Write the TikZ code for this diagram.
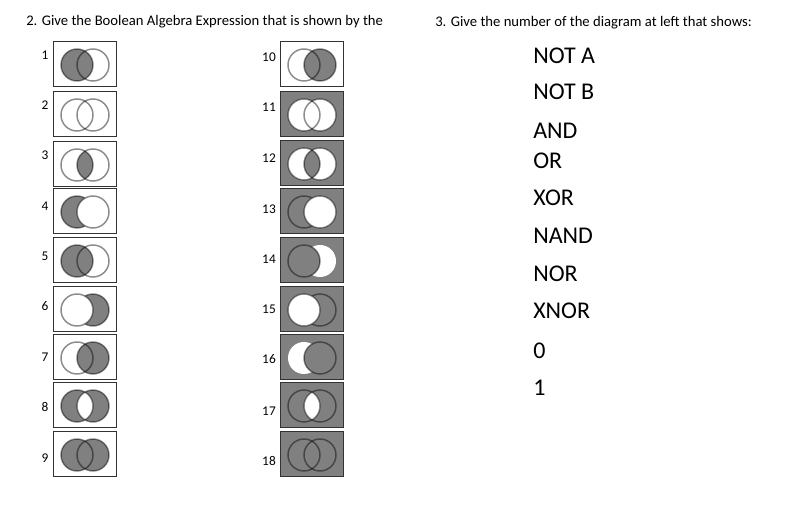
\documentclass[tikz,border=0pt]{standalone}
\usepackage{fontspec}
\setmainfont{Carlito}
\definecolor{shd}{HTML}{808080}
\definecolor{bord}{HTML}{333333}
\tikzset{
 vbox/.style={draw=bord, line width=1.1pt, minimum width=47pt, minimum height=33.5pt, inner sep=0pt, outer sep=0pt},
 circ/.style={draw=black, draw opacity=0.45, line width=1.1pt},
 num/.style={font=\fontsize{10pt}{12pt}\selectfont, anchor=base, inner sep=0pt},
 lbl/.style={font=\fontsize{18pt}{21pt}\selectfont, anchor=base west, inner sep=0pt},
 head/.style={font=\fontsize{11pt}{13pt}\selectfont, anchor=base west, inner sep=0pt},
}
\newcommand\CA{(-8,1) circle (12pt)}
\newcommand\CB{(8,1) circle (12pt)}
\newcommand\outl{\draw[circ] \CA; \draw[circ] \CB;}
\newcommand\vennbox[5]{%
 \node[vbox, fill=#4] (#1) at (#2,#3) {};
 \begin{scope}[shift={(#1.center)}] #5 \end{scope}%
}
\begin{document}
\begin{tikzpicture}[x=0.75pt,y=-0.75pt]
\useasboundingbox (0,0) rectangle (803,509);
\fill[white] (0,0) rectangle (803,509);
% headers
\node[head] (h2) at (26,25.7) {2. Give the Boolean Algebra Expression that is shown by the};
\node[head] (h3) at (435,26.5) {3. Give the number of the diagram at left that shows:};
% left column
\vennbox{b1}{85}{64}{white}{\fill[shd] \CA; \outl}
\vennbox{b2}{85}{114}{white}{\outl}
\vennbox{b3}{85}{164}{white}{\begin{scope}\clip \CA; \fill[shd] \CB;\end{scope} \outl}
\vennbox{b4}{85}{211}{white}{\fill[shd] \CA; \draw[circ] \CA; \fill[white] \CB; \draw[circ] \CB;}
\vennbox{b5}{85}{260}{white}{\fill[shd] \CA; \outl}
\vennbox{b6}{85}{309}{white}{\fill[shd] \CB; \draw[circ] \CB; \fill[white] \CA; \draw[circ] \CA;}
\vennbox{b7}{85}{357}{white}{\fill[shd] \CB; \outl}
\vennbox{b8}{85}{405}{white}{\fill[shd] \CA; \fill[shd] \CB; \begin{scope}\clip \CA; \fill[white] \CB;\end{scope} \outl}
\vennbox{b9}{85}{454}{white}{\fill[shd] \CA; \fill[shd] \CB; \outl}
% right column
\vennbox{b10}{312}{64}{white}{\fill[shd] \CB; \outl}
\vennbox{b11}{312}{114}{shd}{\fill[white] \CA; \fill[white] \CB; \outl}
\vennbox{b12}{312}{163}{shd}{\fill[white] \CA; \fill[white] \CB; \begin{scope}\clip \CA; \fill[shd] \CB;\end{scope} \outl}
\vennbox{b13}{312}{211}{shd}{\draw[circ] \CA; \fill[white] \CB; \draw[circ] \CB;}
\vennbox{b14}{312}{260}{shd}{\fill[white] \CB; \fill[shd] \CA; \draw[circ] \CA;}
\vennbox{b15}{312}{309}{shd}{\draw[circ] \CB; \fill[white] \CA; \draw[circ] \CA;}
\vennbox{b16}{312}{357}{shd}{\fill[white] \CA; \fill[shd] \CB; \draw[circ] \CB;}
\vennbox{b17}{312}{405}{shd}{\begin{scope}\clip \CA; \fill[white] \CB;\end{scope} \outl}
\vennbox{b18}{312}{454}{shd}{\outl}
% numbers
\node[num] (n1) at (45,60) {1};
\node[num] (n2) at (45,110) {2};
\node[num] (n3) at (45,160) {3};
\node[num] (n4) at (45,210.3) {4};
\node[num] (n5) at (45,261) {5};
\node[num] (n6) at (45,311) {6};
\node[num] (n7) at (45,361.6) {7};
\node[num] (n8) at (45,411.6) {8};
\node[num] (n9) at (45,462.6) {9};
\node[num] (n10) at (269,62) {10};
\node[num] (n11) at (269,112) {11};
\node[num] (n12) at (269,162.3) {12};
\node[num] (n13) at (269,213.3) {13};
\node[num] (n14) at (269,263.3) {14};
\node[num] (n15) at (269,313.6) {15};
\node[num] (n16) at (269,363.6) {16};
\node[num] (n17) at (269,415.3) {17};
\node[num] (n18) at (269,465.3) {18};
% labels
\node[lbl] (l1) at (533,63.3) {NOT A};
\node[lbl] (l2) at (533,100) {NOT B};
\node[lbl] (l3) at (533,138.3) {AND};
\node[lbl] (l4) at (533,169) {OR};
\node[lbl] (l5) at (533,205.7) {XOR};
\node[lbl] (l6) at (533,243.3) {NAND};
\node[lbl] (l7) at (533,281.7) {NOR};
\node[lbl] (l8) at (533,319) {XNOR};
\node[lbl] (l9) at (533,358.3) {0};
\node[lbl] (l10) at (533,396) {1};
\end{tikzpicture}
\end{document}
